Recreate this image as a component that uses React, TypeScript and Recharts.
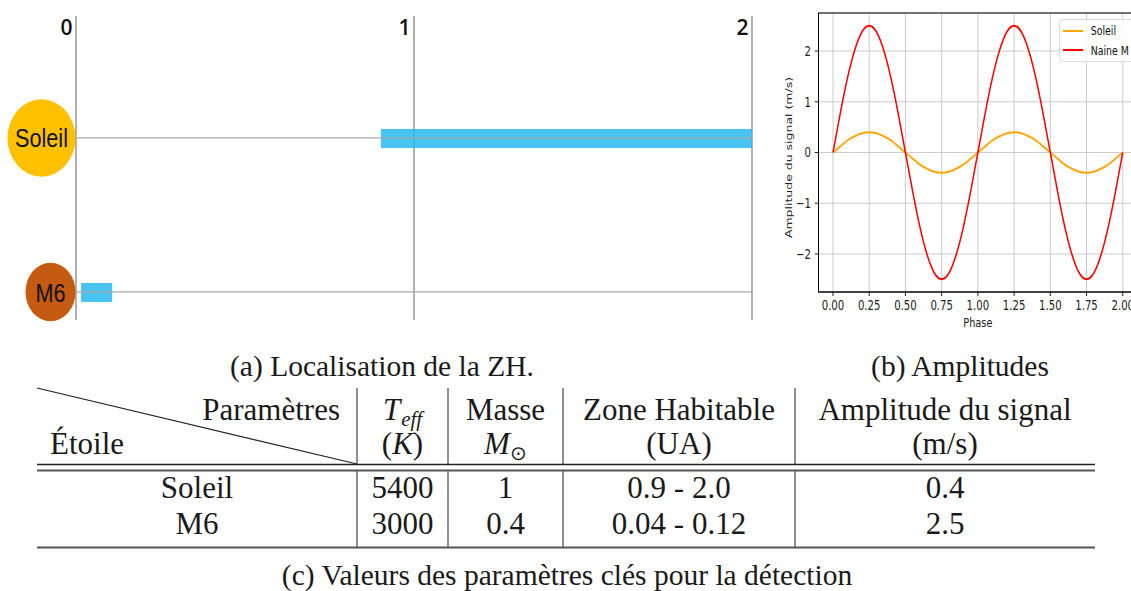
import React from "react";
import {
  BarChart,
  Bar,
  LineChart,
  Line,
  XAxis,
  YAxis,
  CartesianGrid,
  Legend,
  ReferenceArea,
  ReferenceLine,
} from "recharts";

// (a) habitable zone of each star (UA)
const stars = ["Soleil", "M6"];
const starRows = [0, 1];
const zoneStart = [0.902, 0.015];
const zoneEnd = [2.0, 0.107];
const zoneTicks = [0, 1, 2];

// (b) signal amplitude (m/s) against phase
const phase = [
  0, 0.05, 0.1, 0.15, 0.2, 0.25, 0.3, 0.35, 0.4, 0.45, 0.5, 0.55, 0.6, 0.65,
  0.7, 0.75, 0.8, 0.85, 0.9, 0.95, 1.0, 1.05, 1.1, 1.15, 1.2, 1.25, 1.3, 1.35,
  1.4, 1.45, 1.5, 1.55, 1.6, 1.65, 1.7, 1.75, 1.8, 1.85, 1.9, 1.95, 2.0,
];
const soleil = [
  0, 0.12, 0.24, 0.32, 0.38, 0.4, 0.38, 0.32, 0.24, 0.12, 0, -0.12, -0.24,
  -0.32, -0.38, -0.4, -0.38, -0.32, -0.24, -0.12, 0, 0.12, 0.24, 0.32, 0.38,
  0.4, 0.38, 0.32, 0.24, 0.12, 0, -0.12, -0.24, -0.32, -0.38, -0.4, -0.38,
  -0.32, -0.24, -0.12, 0,
];
const naineM = [
  0, 0.77, 1.47, 2.02, 2.38, 2.5, 2.38, 2.02, 1.47, 0.77, 0, -0.77, -1.47,
  -2.02, -2.38, -2.5, -2.38, -2.02, -1.47, -0.77, 0, 0.77, 1.47, 2.02, 2.38,
  2.5, 2.38, 2.02, 1.47, 0.77, 0, -0.77, -1.47, -2.02, -2.38, -2.5, -2.38,
  -2.02, -1.47, -0.77, 0,
];
const seriesNames = ["Soleil", "Naine M"];
const phaseTicks = [0, 0.25, 0.5, 0.75, 1, 1.25, 1.5, 1.75, 2];
const ampTicks = [-2, -1, 0, 1, 2];

// (c) table
const tableStars = ["Soleil", "M6"];
const teff = ["5400", "3000"];
const masse = ["1", "0.4"];
const zoneHab = ["0.9 - 2.0", "0.04 - 0.12"];
const amplitude = ["0.4", "2.5"];

const zoneData = stars.map((s, i) => ({
  star: s,
  row: starRows[i],
  zone: [zoneStart[i], zoneEnd[i]],
}));

const lineData = phase.map((p, i) => ({
  phase: p,
  soleil: soleil[i],
  naineM: naineM[i],
}));

const starLook = {
  Soleil: { fill: "#FFC000", rx: 34, ry: 38.7, textLen: 53, dy: 9 },
  M6: { fill: "#C55A11", rx: 25, ry: 29.3, textLen: 30, dy: 10 },
};

const StarTick = (props) => {
  const { x, y, payload } = props;
  const name = stars[starRows.indexOf(payload.value)];
  const look = starLook[name];
  if (!look) return null;
  return (
    <g>
      <ellipse cx={x - look.rx - 0.5} cy={y} rx={look.rx} ry={look.ry} fill={look.fill} />
      <text
        x={x - look.rx - 0.5}
        y={y + look.dy}
        textAnchor="middle"
        fontSize={26}
        fontFamily="'Liberation Sans Narrow', 'Liberation Sans', Arial, sans-serif"
        textLength={look.textLen}
        lengthAdjust="spacingAndGlyphs"
        fill="#111"
      >
        {name}
      </text>
    </g>
  );
};

const ZoneTick = (props) => {
  const { x, y, payload } = props;
  return (
    <text
      x={x - 3.5}
      y={y + 19}
      textAnchor="end"
      fontSize={21}
      fontWeight={600}
      fontFamily="'Open Sans', sans-serif"
      fill="#111"
    >
      {payload.value}
    </text>
  );
};

const mplFont = "'DejaVu Sans', sans-serif";

const LegendBox = (props) => {
  const payload = props.payload || [];
  const entries = seriesNames
    .map((n) => payload.find((e) => e.value === n))
    .filter(Boolean);
  return (
    <div
      style={{
        border: "1px solid #d4d4d4",
        borderRadius: 4,
        background: "rgba(255,255,255,0.85)",
        padding: "1px 0 1px 4px",
        width: 130,
        fontFamily: mplFont,
        fontSize: 12.5,
        color: "#111",
      }}
    >
      {entries.map((entry) => (
        <div
          key={entry.value}
          style={{ height: 19.5, display: "flex", alignItems: "center" }}
        >
          <span
            style={{
              display: "inline-block",
              width: 27,
              height: 2,
              background: entry.color,
              marginRight: 10,
            }}
          />
          <span>{entry.value}</span>
        </div>
      ))}
    </div>
  );
};

const fmtAmp = (v) => (v < 0 ? "\u2212" + Math.abs(v) : String(v));

const serif = "'Liberation Serif', 'Times New Roman', serif";

const ZoneChart = () => (
  <div style={{ position: "absolute", left: 0, top: 0 }}>
    <BarChart
      width={800}
      height={330}
      layout="vertical"
      data={zoneData}
      margin={{ top: 0, right: 48, bottom: 10, left: 0 }}
    >
      <CartesianGrid horizontal={false} stroke="#858585" strokeWidth={1.3} />
      {starRows.map((r) => (
        <ReferenceLine key={r} y={r} stroke="#a8a8a8" strokeWidth={1.3} />
      ))}
      <XAxis
        type="number"
        orientation="top"
        domain={[0, 2]}
        ticks={zoneTicks}
        interval={0}
        height={16}
        axisLine={false}
        tickLine={false}
        tickSize={0}
        tickMargin={0}
        tick={ZoneTick}
      />
      <YAxis
        type="number"
        dataKey="row"
        domain={[-0.792, 1.182]}
        ticks={starRows}
        interval={0}
        width={76}
        allowDataOverflow
        axisLine={false}
        tickLine={false}
        tickSize={0}
        tickMargin={0}
        tick={StarTick}
      />
      <Bar
        dataKey="zone"
        barSize={19}
        fill="#29B8EF"
        fillOpacity={0.85}
        isAnimationActive={false}
      />
    </BarChart>
  </div>
);

const AmpChart = () => (
  <div
    style={{
      position: "absolute",
      left: 760,
      top: 0,
      width: 520,
      height: 340,
      transform: "scaleX(0.75)",
      transformOrigin: "0 0",
    }}
  >
    <LineChart
      width={520}
      height={340}
      data={lineData}
      margin={{ top: 13, right: 17, bottom: 0, left: 0 }}
    >
      <CartesianGrid stroke="#c4c4c4" strokeWidth={1} />
      <XAxis
        dataKey="phase"
        type="number"
        domain={[-0.1, 2.1]}
        ticks={phaseTicks}
        interval={0}
        allowDataOverflow
        height={48}
        tickSize={4}
        tickMargin={4}
        axisLine={{ stroke: "#000" }}
        tickLine={{ stroke: "#000" }}
        tickFormatter={(v) => v.toFixed(2)}
        tick={{ fontSize: 13.5, fill: "#222", fontFamily: mplFont }}
        label={{
          value: "Phase",
          position: "insideBottom",
          offset: 13,
          fontSize: 13,
          fill: "#222",
          fontFamily: mplFont,
        }}
      />
      <YAxis
        type="number"
        domain={[-2.75, 2.75]}
        ticks={ampTicks}
        interval={0}
        allowDataOverflow
        width={78}
        tickSize={5}
        tickMargin={5}
        axisLine={{ stroke: "#000" }}
        tickLine={{ stroke: "#000" }}
        tickFormatter={fmtAmp}
        tick={{ fontSize: 13.5, fill: "#222", fontFamily: mplFont }}
        label={{
          value: "Amplitude du signal (m/s)",
          angle: -90,
          position: "center",
          dx: -1,
          dy: 5,
          fontSize: 12.5,
          fill: "#222",
          fontFamily: mplFont,
        }}
      />
      <ReferenceArea
        x1={-0.1}
        x2={2.1}
        y1={-2.75}
        y2={2.75}
        fill="none"
        stroke="#000"
        strokeWidth={1.2}
        ifOverflow="visible"
      />
      <Line
        dataKey="soleil"
        name="Soleil"
        type="natural"
        stroke="#FFA500"
        strokeWidth={2}
        dot={false}
        isAnimationActive={false}
      />
      <Line
        dataKey="naineM"
        name="Naine M"
        type="natural"
        stroke="#FF0000"
        strokeWidth={2}
        dot={false}
        isAnimationActive={false}
      />
      <Legend
        layout="vertical"
        align="center"
        verticalAlign="middle"
        content={LegendBox}
        wrapperStyle={{ left: 399, top: 19 }}
      />
    </LineChart>
  </div>
);

// column edges and text rows of the table (c)
const colEdges = [37, 357, 448, 563, 795, 1095];
const colMid = (i) => (colEdges[i] + colEdges[i + 1]) / 2;
const bodyRows = [498, 534];

const TableC = () => {
  const txt = { fontFamily: serif, fontSize: 31, fill: "#1a1a1a" };
  const cap = { fontFamily: serif, fontSize: 29.5, fill: "#1a1a1a" };
  return (
    <svg
      width={1131}
      height={591}
      style={{ position: "absolute", left: 0, top: 0 }}
    >
      <text x={382} y={376} textAnchor="middle" style={cap}>
        (a) Localisation de la ZH.
      </text>
      <text x={960} y={376} textAnchor="middle" style={cap}>
        (b) Amplitudes
      </text>
      <text x={567} y={585} textAnchor="middle" style={cap}>
        (c) Valeurs des paramètres clés pour la détection
      </text>

      <line x1={37} y1={388} x2={357} y2={464} stroke="#222" strokeWidth={1.2} />
      {colEdges.slice(1, 5).map((x) => (
        <g key={x}>
          <line x1={x} y1={388} x2={x} y2={464} stroke="#333" strokeWidth={1.1} />
          <line x1={x} y1={471} x2={x} y2={548} stroke="#333" strokeWidth={1.1} />
        </g>
      ))}
      <line x1={37} y1={464.5} x2={1095} y2={464.5} stroke="#222" strokeWidth={1.3} />
      <line x1={37} y1={470.5} x2={1095} y2={470.5} stroke="#555" strokeWidth={1.8} />
      <line x1={37} y1={547.5} x2={1095} y2={547.5} stroke="#555" strokeWidth={1.8} />

      <text x={340} y={420} textAnchor="end" style={txt}>Paramètres</text>
      <text x={50} y={454} textAnchor="start" style={txt}>Étoile</text>

      <text x={colMid(1)} y={420} textAnchor="middle" style={txt}>
        <tspan fontStyle="italic">T</tspan>
        <tspan fontStyle="italic" fontSize={21} dx={1} dy={6}>eff</tspan>
      </text>
      <text x={colMid(1)} y={454} textAnchor="middle" style={txt}>
        <tspan>(</tspan>
        <tspan fontStyle="italic">K</tspan>
        <tspan>)</tspan>
      </text>
      <text x={colMid(2)} y={420} textAnchor="middle" style={txt}>Masse</text>
      <text x={colMid(2)} y={454} textAnchor="middle" style={txt}>
        <tspan fontStyle="italic">M</tspan>
        <tspan fontSize={20} dy={6}>⊙</tspan>
      </text>
      <text x={colMid(3)} y={420} textAnchor="middle" style={txt}>Zone Habitable</text>
      <text x={colMid(3)} y={454} textAnchor="middle" style={txt}>(UA)</text>
      <text x={colMid(4)} y={420} textAnchor="middle" style={txt}>Amplitude du signal</text>
      <text x={colMid(4)} y={454} textAnchor="middle" style={txt}>(m/s)</text>

      {tableStars.map((s, i) => (
        <g key={s}>
          <text x={colMid(0)} y={bodyRows[i]} textAnchor="middle" style={txt}>{s}</text>
          <text x={colMid(1)} y={bodyRows[i]} textAnchor="middle" style={txt}>{teff[i]}</text>
          <text x={colMid(2)} y={bodyRows[i]} textAnchor="middle" style={txt}>{masse[i]}</text>
          <text x={colMid(3)} y={bodyRows[i]} textAnchor="middle" style={txt}>{zoneHab[i]}</text>
          <text x={colMid(4)} y={bodyRows[i]} textAnchor="middle" style={txt}>{amplitude[i]}</text>
        </g>
      ))}
    </svg>
  );
};

export default function App() {
  return (
    <div
      style={{
        position: "absolute",
        left: 0,
        top: 0,
        width: 1131,
        height: 591,
        overflow: "hidden",
        background: "#fff",
      }}
    >
      <TableC />
      <ZoneChart />
      <AmpChart />
    </div>
  );
}
